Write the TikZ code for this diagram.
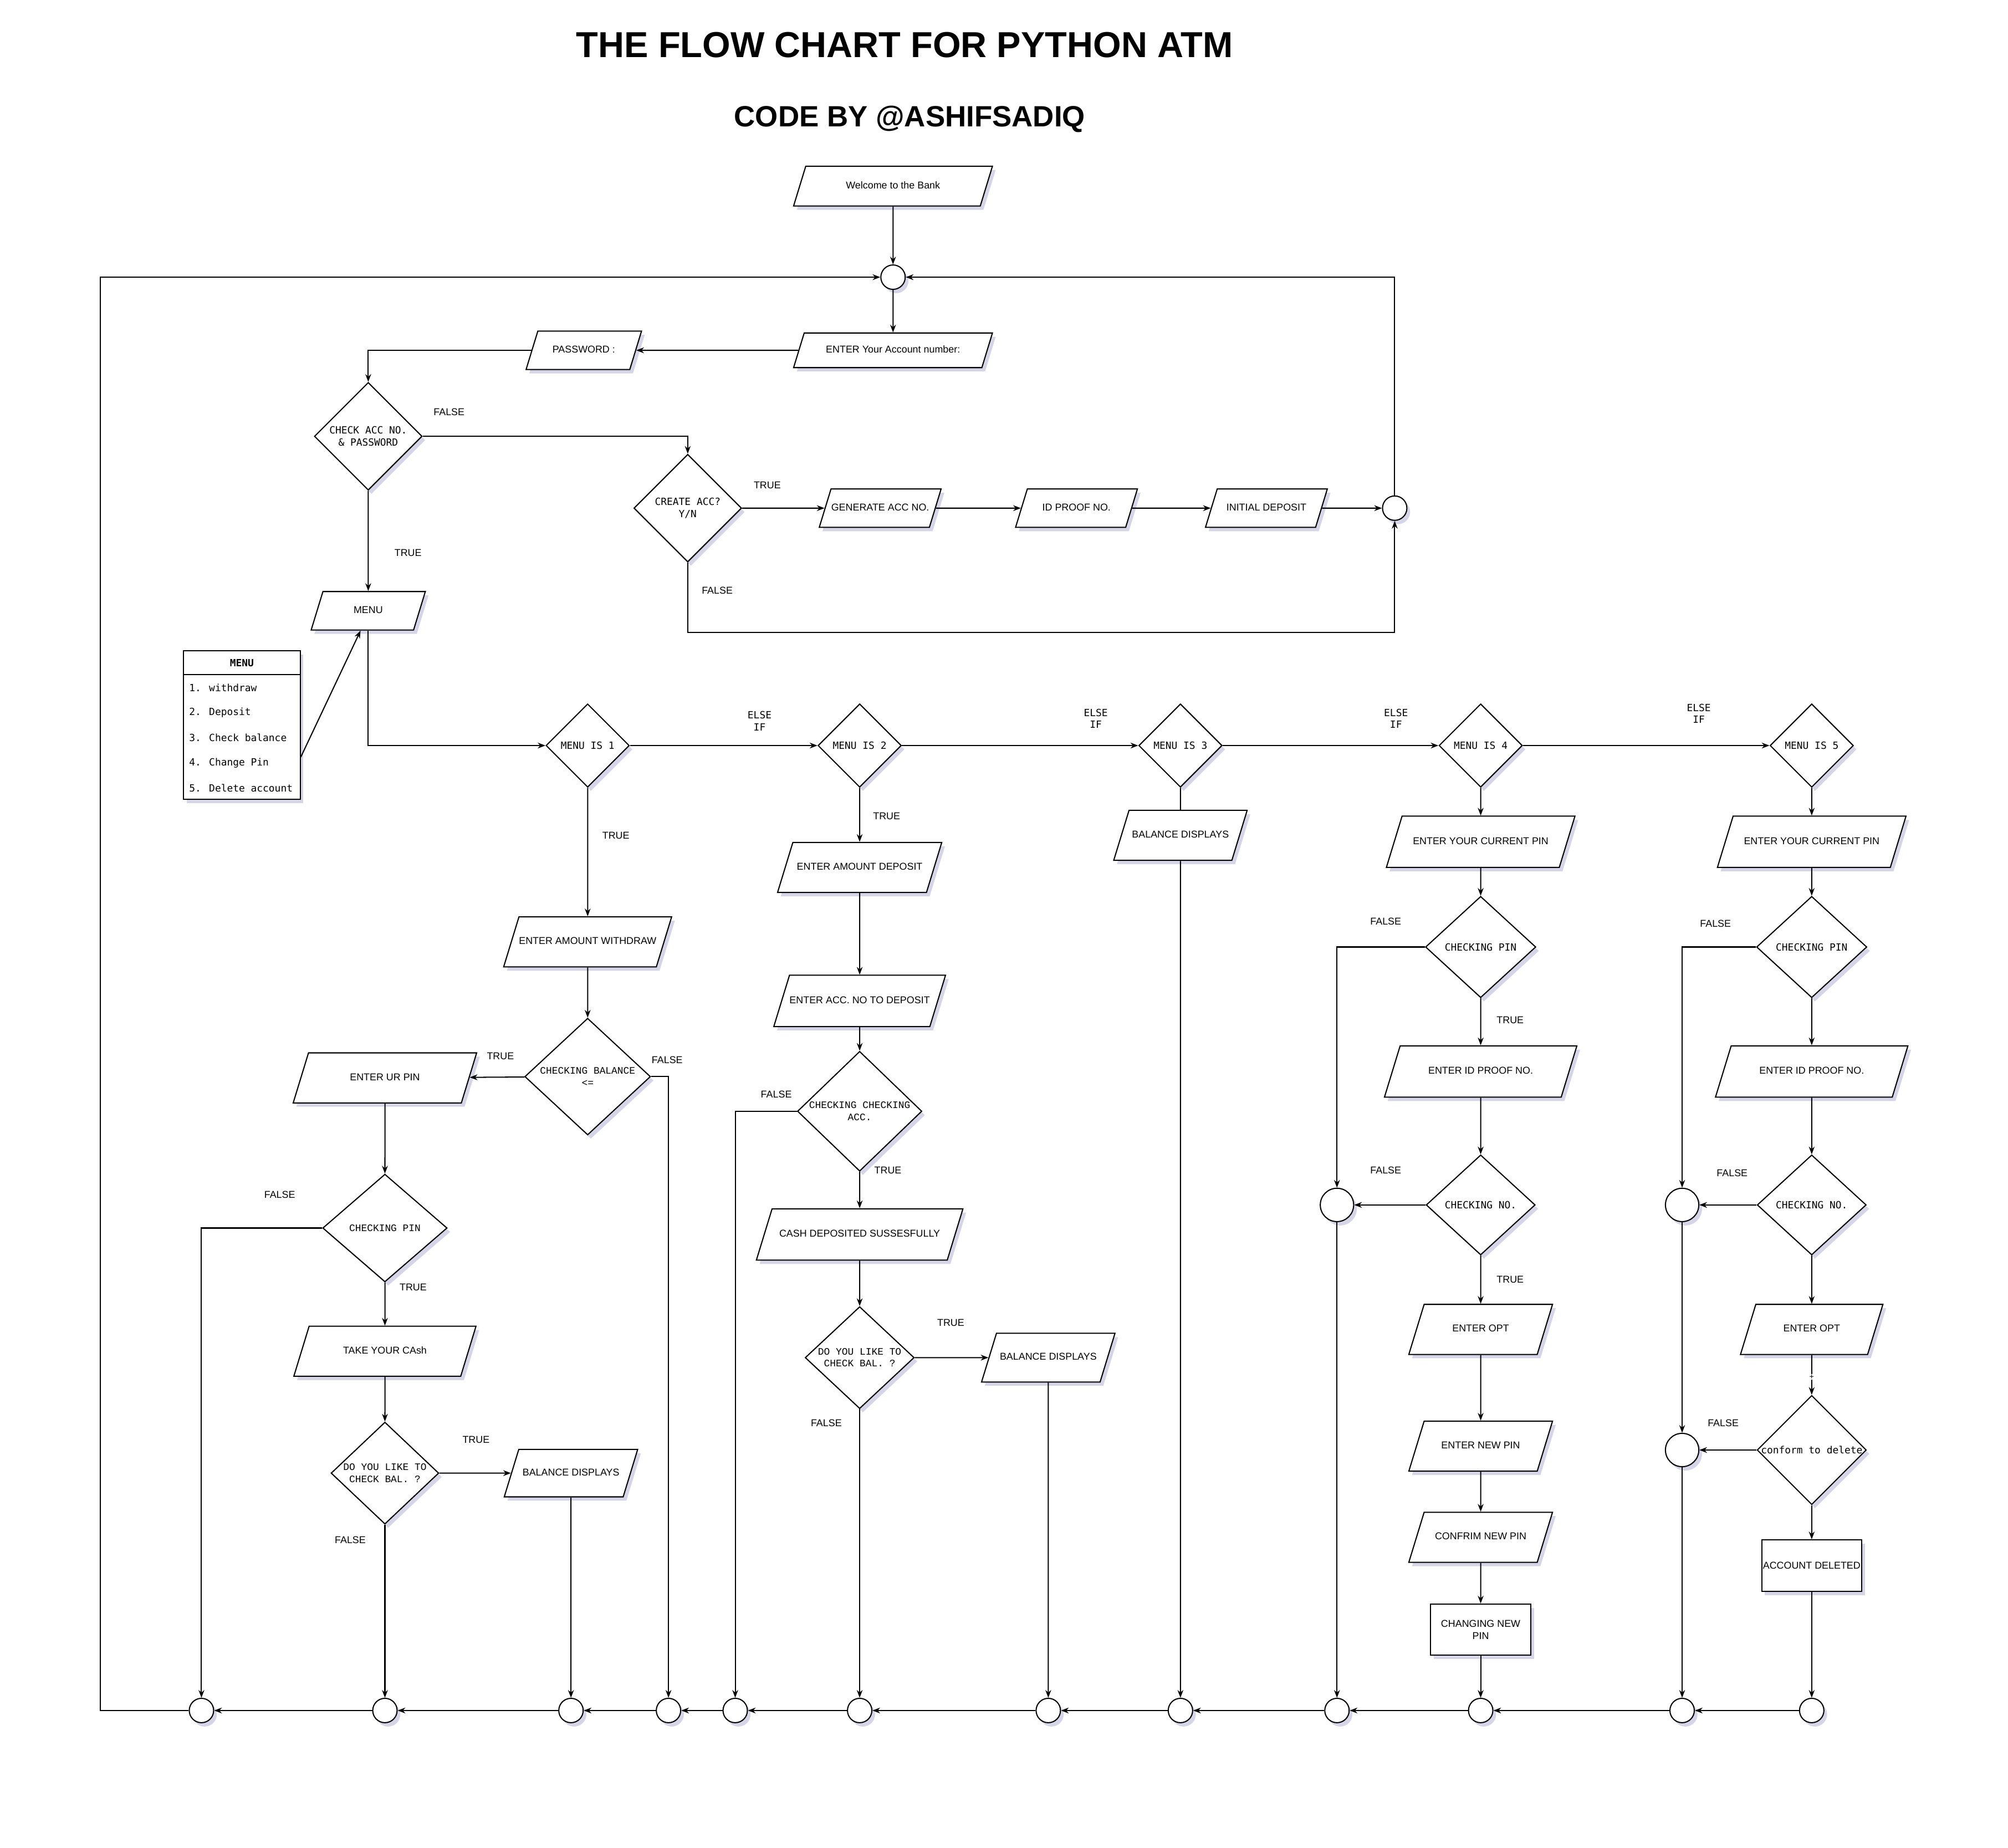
\documentclass[tikz,border=0pt]{standalone}
\usepackage{fontspec}
\setmainfont{Liberation Sans}
\setmonofont{Liberation Mono}
\newfontfamily\dejamono{DejaVu Sans Mono}
\usepackage{xcolor}
\usepackage{tikz}
\usetikzlibrary{arrows.meta,shapes.geometric,shadows}
\definecolor{shadowblue}{RGB}{185, 185, 215}

\begin{document}
\begin{tikzpicture}[x=0.02cm, y=-0.02cm, line width=0.5pt,
    every node/.style={font=\fontsize{4.4}{5.3}\selectfont},
    base/.style={draw=black, fill=white, inner sep=0pt,
        drop shadow={shadow xshift=0.05cm, shadow yshift=-0.06cm, fill=shadowblue, opacity=0.6}},
    iobox/.style 2 args={base, trapezium, trapezium left angle=73, trapezium right angle=107,
        trapezium stretches body=true, text height=3.2pt, text depth=1pt,
        minimum width=#1, inner ysep={#2/2-2.1pt}},
    decide/.style={base, diamond, aspect=1, align=center, font=\fontsize{4.4}{5.3}\selectfont\dejamono},
    decidett/.style={decide, font=\fontsize{4.4}{5.3}\selectfont\ttfamily},
    procbox/.style={base, rectangle, align=center},
    joint/.style={base, circle, minimum size=0.38cm},
    bigjoint/.style={base, circle, minimum size=0.52cm},
    cond/.style={inner sep=0pt},
    elseif/.style={inner sep=0pt, align=center, font=\fontsize{4.4}{5.3}\selectfont\dejamono},
    menuitem/.style={anchor=west, inner sep=0pt, font=\fontsize{4.4}{5.3}\selectfont\dejamono},
    arr/.style={-{Stealth[length=1.2mm, width=0.9mm]}}]
    \useasboundingbox (0,0) rectangle (1565,1440);

    % Titles
    \node[font=\fontsize{16}{19}\selectfont\bfseries] (title) at (705,35) {THE FLOW CHART FOR PYTHON ATM};
    \node[font=\fontsize{13}{16}\selectfont\bfseries] (author) at (709,93) {CODE BY @ASHIFSADIQ};

    % Login and new account
    \node[iobox={3.1cm}{0.62cm}] (welcome) at (696,145) {Welcome to the Bank};
    \node[joint] (top) at (696,216) {};
    \node[iobox={3.1cm}{0.54cm}] (accno) at (696,273) {ENTER Your Account number:};
    \node[iobox={1.8cm}{0.6cm}] (passwd) at (455,273) {PASSWORD :};
    \node[decide, minimum width=1.68cm, minimum height=1.68cm] (checkacc) at (287,340) {CHECK ACC NO.\\\& PASSWORD};
    \node[decide, minimum width=1.68cm, minimum height=1.68cm] (create) at (536,396) {CREATE ACC?\\Y/N};
    \node[iobox={1.9cm}{0.6cm}] (genacc) at (686,396) {GENERATE ACC NO.};
    \node[iobox={1.9cm}{0.6cm}] (idproof) at (839,396) {ID PROOF NO.};
    \node[iobox={1.9cm}{0.6cm}] (initdep) at (987,396) {INITIAL DEPOSIT};
    \node[joint] (back) at (1087,396) {};
    \coordinate (newacc) at (536,493);
    \node[iobox={1.78cm}{0.6cm}] (menu) at (287,476) {MENU};

    % Menu list
    \node[procbox, minimum width=1.82cm, minimum height=2.32cm] (menulist) at (188.5,565) {};
    \draw (menulist.north west) ++(0,19) -- ++(91,0);
    \node[font=\fontsize{4.4}{5.3}\selectfont\dejamono\bfseries] (menuhead) at (188.5,516.5) {MENU};
    \node[menuitem] (item1) at (147,536) {1. withdraw};
    \node[menuitem] (item2) at (147,555.5) {2. Deposit};
    \node[menuitem] (item3) at (147,575) {3. Check balance};
    \node[menuitem] (item4) at (147,594.5) {4. Change Pin};
    \node[menuitem] (item5) at (147,614) {5. Delete account};

    % Menu choices
    \node[decide, minimum width=1.3cm, minimum height=1.3cm] (menu1) at (458,581) {MENU IS 1};
    \node[decide, minimum width=1.3cm, minimum height=1.3cm] (menu2) at (670,581) {MENU IS 2};
    \node[decide, minimum width=1.3cm, minimum height=1.3cm] (menu3) at (920,581) {MENU IS 3};
    \node[decide, minimum width=1.3cm, minimum height=1.3cm] (menu4) at (1154,581) {MENU IS 4};
    \node[decide, minimum width=1.3cm, minimum height=1.3cm] (menu5) at (1412,581) {MENU IS 5};

    % Withdraw
    \node[iobox={2.54cm}{0.78cm}] (amtwd) at (458,734) {ENTER AMOUNT WITHDRAW};
    \node[decidett, minimum width=1.96cm, minimum height=1.82cm] (chkbal) at (458,839) {CHECKING BALANCE\\<=};
    \node[iobox={2.86cm}{0.78cm}] (urpin) at (300,840) {ENTER UR PIN};
    \node[decidett, minimum width=1.94cm, minimum height=1.68cm] (chkpin) at (300,957) {CHECKING PIN};
    \node[iobox={2.84cm}{0.78cm}] (takecash) at (300,1053) {TAKE YOUR CAsh};
    \node[decidett, minimum width=1.68cm, minimum height=1.56cm] (askbal) at (300,1148) {DO YOU LIKE TO\\CHECK BAL. ?};
    \node[iobox={2.08cm}{0.74cm}] (showbal) at (445,1148) {BALANCE DISPLAYS};

    % Deposit
    \node[iobox={2.56cm}{0.78cm}] (amtdep) at (670,676) {ENTER AMOUNT DEPOSIT};
    \node[iobox={2.6cm}{0.8cm}] (accdep) at (670,780) {ENTER ACC. NO TO DEPOSIT};
    \node[decidett, minimum width=1.94cm, minimum height=1.66cm] (chkdep) at (670,866) {CHECKING CHECKING\\ACC.};
    \node[iobox={3.22cm}{0.8cm}] (depdone) at (670,962) {CASH DEPOSITED SUSSESFULLY};
    \node[decidett, minimum width=1.7cm, minimum height=1.56cm] (askdep) at (670,1058) {DO YOU LIKE TO\\CHECK BAL. ?};
    \node[iobox={2.08cm}{0.76cm}] (showdep) at (817,1058) {BALANCE DISPLAYS};

    % Check balance
    \node[iobox={2.08cm}{0.78cm}] (showonly) at (920,651) {BALANCE DISPLAYS};

    % Change pin
    \node[iobox={2.94cm}{0.8cm}] (curpin) at (1154,656) {ENTER YOUR CURRENT PIN};
    \node[decide, minimum width=1.72cm, minimum height=1.58cm] (pinok) at (1154,738) {CHECKING PIN};
    \node[iobox={3.0cm}{0.8cm}] (idpin) at (1154,835) {ENTER ID PROOF NO.};
    \node[decide, minimum width=1.7cm, minimum height=1.56cm] (idok) at (1154,939) {CHECKING NO.};
    \node[iobox={2.24cm}{0.78cm}] (otppin) at (1154,1036) {ENTER OPT};
    \node[iobox={2.24cm}{0.78cm}] (newpin) at (1154,1127) {ENTER NEW PIN};
    \node[iobox={2.24cm}{0.78cm}] (confpin) at (1154,1198) {CONFRIM NEW PIN};
    \node[procbox, minimum width=1.56cm, minimum height=0.8cm] (savepin) at (1154,1270) {CHANGING NEW\\PIN};
    \node[bigjoint] (failpin) at (1042,939) {};

    % Delete account
    \node[iobox={2.94cm}{0.8cm}] (curdel) at (1412,656) {ENTER YOUR CURRENT PIN};
    \node[decide, minimum width=1.72cm, minimum height=1.58cm] (pindel) at (1412,738) {CHECKING PIN};
    \node[iobox={3.0cm}{0.8cm}] (iddel) at (1412,835) {ENTER ID PROOF NO.};
    \node[decide, minimum width=1.7cm, minimum height=1.56cm] (iddelok) at (1412,939) {CHECKING NO.};
    \node[iobox={2.22cm}{0.78cm}] (otpdel) at (1412,1036) {ENTER OPT};
    \node[decide, minimum width=1.7cm, minimum height=1.58cm] (confdel) at (1412,1130) {conform to delete};
    \node[procbox, minimum width=1.56cm, minimum height=0.8cm] (deleted) at (1412,1220) {ACCOUNT DELETED};
    \node[bigjoint] (faildel1) at (1311,939) {};
    \node[bigjoint] (faildel2) at (1311,1130) {};

    % Return joints
    \node[joint] (ret1) at (157,1333) {};
    \node[joint] (ret2) at (300,1333) {};
    \node[joint] (ret3) at (445,1333) {};
    \node[joint] (ret4) at (521,1333) {};
    \node[joint] (ret5) at (573,1333) {};
    \node[joint] (ret6) at (670,1333) {};
    \node[joint] (ret7) at (817,1333) {};
    \node[joint] (ret8) at (920,1333) {};
    \node[joint] (ret9) at (1042,1333) {};
    \node[joint] (ret10) at (1154,1333) {};
    \node[joint] (ret11) at (1311,1333) {};
    \node[joint] (ret12) at (1412,1333) {};
    \coordinate (corner) at (78,1333);

    % Branch labels
    \node[cond] (lf1) at (350,321) {FALSE};
    \node[cond] (lt1) at (318,431) {TRUE};
    \node[cond] (lt2) at (598,378) {TRUE};
    \node[cond] (lf2) at (559,460) {FALSE};
    \node[elseif] (else1) at (592,562) {ELSE\\IF};
    \node[elseif] (else2) at (854,560) {ELSE\\IF};
    \node[elseif] (else3) at (1088,560) {ELSE\\IF};
    \node[elseif] (else4) at (1324,556) {ELSE\\IF};
    \node[cond] (lt3) at (480,651) {TRUE};
    \node[cond] (lt4) at (390,823) {TRUE};
    \node[cond] (lf3) at (520,826) {FALSE};
    \node[cond] (lf4) at (218,931) {FALSE};
    \node[cond] (lt5) at (322,1003) {TRUE};
    \node[cond] (lt6) at (371,1122) {TRUE};
    \node[cond] (lf5) at (273,1200) {FALSE};
    \node[cond] (lt7) at (691,636) {TRUE};
    \node[cond] (lf6) at (605,853) {FALSE};
    \node[cond] (lt8) at (692,912) {TRUE};
    \node[cond] (lt9) at (741,1031) {TRUE};
    \node[cond] (lf7) at (644,1109) {FALSE};
    \node[cond] (lf8) at (1080,718) {FALSE};
    \node[cond] (lt10) at (1177,795) {TRUE};
    \node[cond] (lf9) at (1080,912) {FALSE};
    \node[cond] (lt11) at (1177,997) {TRUE};
    \node[cond] (lf10) at (1337,720) {FALSE};
    \node[cond] (lf11) at (1350,914) {FALSE};
    \node[cond] (lf12) at (1343,1109) {FALSE};

    % Login connectors
    \draw[arr] (welcome) -- (top);
    \draw[arr] (top) -- (accno);
    \draw[arr] (accno) -- (passwd);
    \draw[arr] (passwd.west) -| (checkacc.north);
    \draw[arr] (checkacc.east) -| (create.north);
    \draw[arr] (checkacc) -- (menu);
    \draw[arr] (create) -- (genacc);
    \draw[arr] (genacc) -- (idproof);
    \draw[arr] (idproof) -- (initdep);
    \draw[arr] (initdep) -- (back);
    \draw[arr] (create.south) -- (newacc) -| (back.south);
    \draw[arr] (back.north) |- (top.east);
    \draw[arr] ([yshift=-0.5cm]menulist.east) -- ([xshift=-0.12cm]menu.south);
    \draw[arr] (menu.south) |- (menu1.west);

    % Menu connectors
    \draw[arr] (menu1) -- (menu2);
    \draw[arr] (menu2) -- (menu3);
    \draw[arr] (menu3) -- (menu4);
    \draw[arr] (menu4) -- (menu5);

    % Withdraw connectors
    \draw[arr] (menu1) -- (amtwd);
    \draw[arr] (amtwd) -- (chkbal);
    \draw[arr] (chkbal) -- (urpin);
    \draw[arr] (chkbal.east) -| (ret4.north);
    \draw[arr] (urpin) -- (chkpin);
    \draw[arr] (chkpin.west) -| (ret1.north);
    \draw[arr] (chkpin) -- (takecash);
    \draw[arr] (takecash) -- (askbal);
    \draw[arr] (askbal) -- (showbal);
    \draw[arr] (askbal) -- (ret2);
    \draw[arr] (showbal) -- (ret3);

    % Deposit connectors
    \draw[arr] (menu2) -- (amtdep);
    \draw[arr] (amtdep) -- (accdep);
    \draw[arr] (accdep) -- (chkdep);
    \draw[arr] (chkdep.west) -| (ret5.north);
    \draw[arr] (chkdep) -- (depdone);
    \draw[arr] (depdone) -- (askdep);
    \draw[arr] (askdep) -- (showdep);
    \draw[arr] (askdep) -- (ret6);
    \draw[arr] (showdep) -- (ret7);

    % Check balance connectors
    \draw (menu3) -- (showonly);
    \draw[arr] (showonly) -- (ret8);

    % Change pin connectors
    \draw[arr] (menu4) -- (curpin);
    \draw[arr] (curpin) -- (pinok);
    \draw[arr] (pinok.west) -| (failpin.north);
    \draw[arr] (pinok) -- (idpin);
    \draw[arr] (idpin) -- (idok);
    \draw[arr] (idok) -- (failpin);
    \draw[arr] (idok) -- (otppin);
    \draw[arr] (otppin) -- (newpin);
    \draw[arr] (newpin) -- (confpin);
    \draw[arr] (confpin) -- (savepin);
    \draw[arr] (savepin) -- (ret10);
    \draw[arr] (failpin) -- (ret9);

    % Delete account connectors
    \draw[arr] (menu5) -- (curdel);
    \draw[arr] (curdel) -- (pindel);
    \draw[arr] (pindel.west) -| (faildel1.north);
    \draw[arr] (pindel) -- (iddel);
    \draw[arr] (iddel) -- (iddelok);
    \draw[arr] (iddelok) -- (faildel1);
    \draw[arr] (iddelok) -- (otpdel);
    \draw[arr] (otpdel) -- (confdel);
    \node[fill=white, inner sep=0.3pt, font=\fontsize{3.5}{4}\selectfont] (plusmark) at (1412,1073) {+};
    \draw[arr] (confdel) -- (faildel2);
    \draw[arr] (faildel1) -- (faildel2);
    \draw[arr] (confdel) -- (deleted);
    \draw[arr] (deleted) -- (ret12);
    \draw[arr] (faildel2) -- (ret11);

    % Return line
    \draw[arr] (ret12) -- (ret11);
    \draw[arr] (ret11) -- (ret10);
    \draw[arr] (ret10) -- (ret9);
    \draw[arr] (ret9) -- (ret8);
    \draw[arr] (ret8) -- (ret7);
    \draw[arr] (ret7) -- (ret6);
    \draw[arr] (ret6) -- (ret5);
    \draw[arr] (ret5) -- (ret4);
    \draw[arr] (ret4) -- (ret3);
    \draw[arr] (ret3) -- (ret2);
    \draw[arr] (ret2) -- (ret1);
    \draw[arr] (ret1.west) -- (corner) |- (top.west);
\end{tikzpicture}
\end{document}
